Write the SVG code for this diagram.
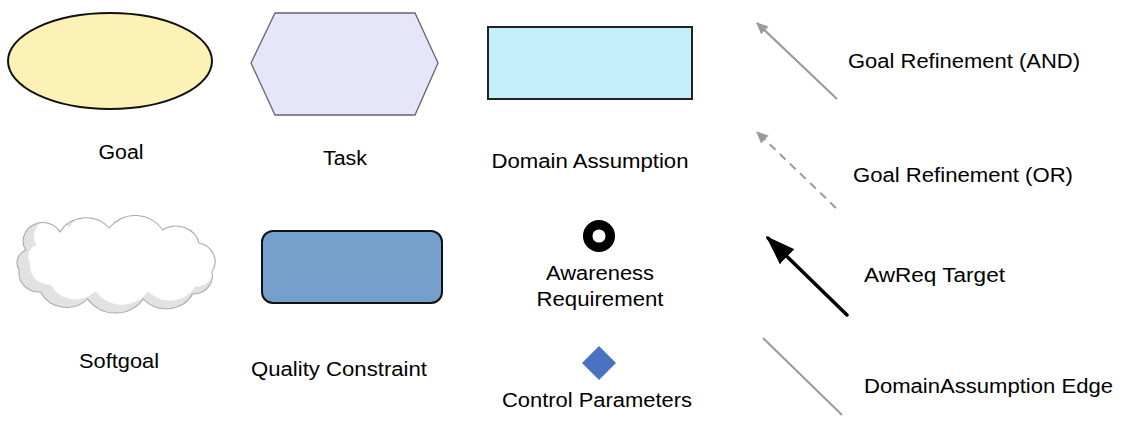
<svg xmlns="http://www.w3.org/2000/svg" width="1126" height="426" viewBox="0 0 1126 426">
<style>
text{font-family:"Liberation Sans",Arial,sans-serif;font-size:20px;fill:#000;text-anchor:middle}
.gray{stroke:#9a9a9a;stroke-width:2;fill:none}
</style>
<defs>
<marker id="ga" viewBox="0 0 10 10" refX="9" refY="5" markerWidth="6" markerHeight="6" orient="auto" markerUnits="strokeWidth">
<path d="M0,0.5 L10,5 L0,9.5 Z" fill="#9a9a9a"/>
</marker>
<marker id="ba" viewBox="0 0 10 10" refX="9" refY="5" markerWidth="8.5" markerHeight="8.5" orient="auto" markerUnits="strokeWidth">
<path d="M0,1.5 L10,5 L0,8.5 Z" fill="#000"/>
</marker>
<path id="cloud" d="M30 250 A14 14 0 0 1 62 232 A28 28 0 0 1 108 228 A30 30 0 0 1 158 230 A22 22 0 0 1 192 243 A19 19 0 0 1 204 272 A18 18 0 0 1 186 294 A28 28 0 0 1 140 299 A31 31 0 0 1 88 299 A27 27 0 0 1 44 292 A19 19 0 0 1 24 270 A14 14 0 0 1 30 250 Z"/>
</defs>
<rect width="1126" height="426" fill="#fff"/>
<g id="goal">
<ellipse cx="110" cy="61" rx="102" ry="48" fill="#fdf2b6" stroke="#111" stroke-width="2"/>
<text x="121" y="159" textLength="45" lengthAdjust="spacingAndGlyphs">Goal</text>
</g>
<g id="task">
<polygon points="275,13 415,13 438,63 415,115 275,115 251,63" fill="#e6e6fa" stroke="#666" stroke-width="1.3"/>
<text x="345" y="165" textLength="44" lengthAdjust="spacingAndGlyphs">Task</text>
</g>
<g id="domainAssumption">
<rect x="488" y="27" width="204" height="72" fill="#c5eefb" stroke="#222" stroke-width="2"/>
<text x="590" y="168" textLength="197" lengthAdjust="spacingAndGlyphs">Domain Assumption</text>
</g>
<g id="softgoal">
<g transform="translate(115,0) scale(1.07,1) translate(-113.5,0)">
<use href="#cloud" fill="#e2e2e2" stroke="none"/>
<use href="#cloud" fill="#fff" stroke="none" transform="translate(118,258) scale(0.95) translate(-112,-264)"/>
<use href="#cloud" fill="none" stroke="#a8a8a8" stroke-width="1"/>
</g>
<text x="119" y="368" textLength="80" lengthAdjust="spacingAndGlyphs">Softgoal</text>
</g>
<g id="qualityConstraint">
<rect x="262" y="231" width="180" height="72" rx="11" fill="#74a0cb" stroke="#111" stroke-width="2"/>
<text x="339" y="376" textLength="176" lengthAdjust="spacingAndGlyphs">Quality Constraint</text>
</g>
<g id="awarenessRequirement">
<circle cx="599" cy="236" r="11.3" fill="#fff" stroke="#000" stroke-width="9.5"/>
<text x="600" y="280" textLength="108" lengthAdjust="spacingAndGlyphs">Awareness</text>
<text x="600" y="306" textLength="127" lengthAdjust="spacingAndGlyphs">Requirement</text>
</g>
<g id="controlParameters">
<polygon points="599,346 616,363 599,380 582,363" fill="#4a72c0"/>
<text x="597" y="407" textLength="190" lengthAdjust="spacingAndGlyphs">Control Parameters</text>
</g>
<g id="connectors">
<line x1="837" y1="99" x2="757" y2="23" class="gray" marker-end="url(#ga)"/>
<line x1="836" y1="208" x2="757" y2="132" class="gray" stroke-dasharray="8,6" marker-end="url(#ga)"/>
<line x1="847" y1="315" x2="768" y2="238" stroke="#000" stroke-width="3.5" stroke-linecap="round" marker-end="url(#ba)"/>
<line x1="763" y1="338" x2="842" y2="415" class="gray"/>
</g>
<g id="legendLabels">
<text x="964" y="68" textLength="232" lengthAdjust="spacingAndGlyphs">Goal Refinement (AND)</text>
<text x="963" y="182" textLength="220" lengthAdjust="spacingAndGlyphs">Goal Refinement (OR)</text>
<text x="934.5" y="282" textLength="141" lengthAdjust="spacingAndGlyphs">AwReq Target</text>
<text x="988.5" y="393" textLength="249" lengthAdjust="spacingAndGlyphs">DomainAssumption Edge</text>
</g>
</svg>
